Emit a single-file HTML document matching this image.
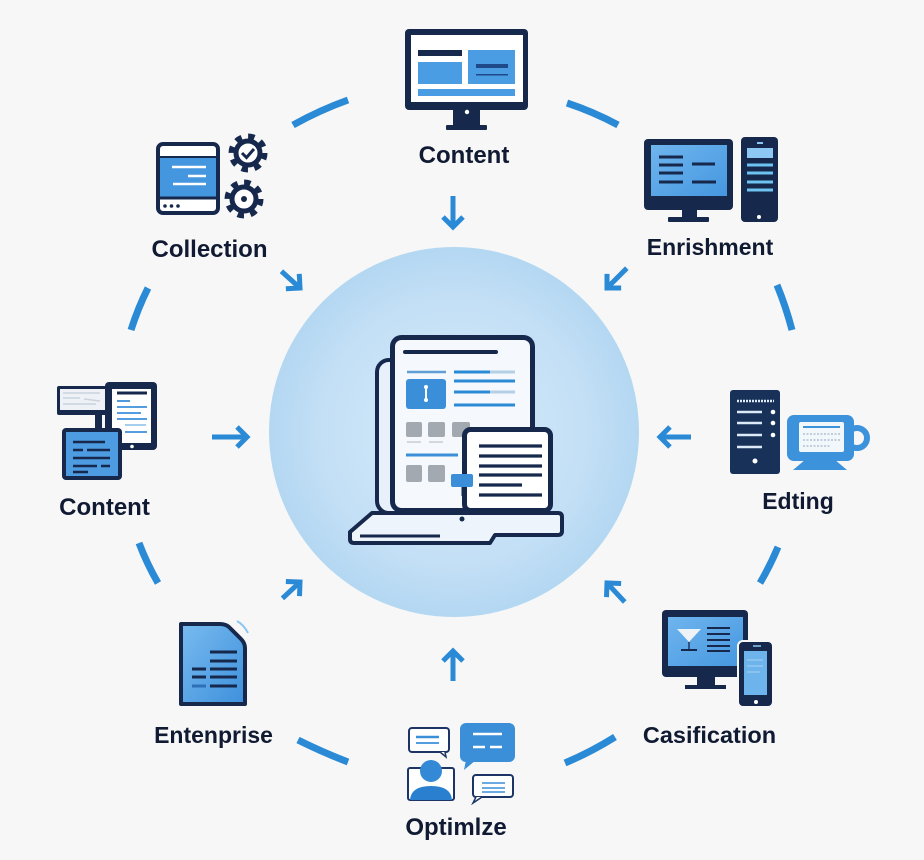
<!DOCTYPE html>
<html><head><meta charset="utf-8"><style>
html,body{margin:0;padding:0;background:#f7f7f7;}
svg{display:block}
text{font-family:"Liberation Sans",Arial,sans-serif;font-weight:bold;fill:#101a32;text-anchor:middle}
</style></head><body>
<svg width="924" height="860" viewBox="0 0 924 860" xmlns="http://www.w3.org/2000/svg">
<defs>
<radialGradient id="cg" cx="50%" cy="50%" r="50%">
<stop offset="0" stop-color="#d4e9f9"/>
<stop offset="0.7" stop-color="#c4e0f6"/>
<stop offset="1" stop-color="#b4d7f2"/>
</radialGradient>
<linearGradient id="docg" x1="0" y1="0" x2="1" y2="1">
<stop offset="0" stop-color="#79bbf0"/>
<stop offset="1" stop-color="#3d90dc"/>
</linearGradient>
<linearGradient id="scr" x1="0" y1="0" x2="1" y2="1">
<stop offset="0" stop-color="#6fb5ee"/>
<stop offset="1" stop-color="#4597e0"/>
</linearGradient>
</defs>
<rect width="924" height="860" fill="#f7f7f7"/>

<!-- central circle -->
<circle cx="454" cy="432" r="185" fill="url(#cg)"/>

<!-- outer dashes -->
<g stroke="#2b8ad6" stroke-width="7" fill="none">
<path d="M293,125 Q320,110 348,100"/>
<path d="M567,103 Q594,112 618,125"/>
<path d="M148,288 Q138,308 131,330"/>
<path d="M139,543 Q147,564 158,583"/>
<path d="M777,285 Q786,307 792,330"/>
<path d="M778,547 Q770,566 760,583"/>
<path d="M298,740 Q322,752 348,762"/>
<path d="M565,763 Q591,752 615,737"/>
</g>

<!-- arrows -->
<g stroke="#2b8ad6" stroke-width="5" fill="none" stroke-linejoin="miter">
<g transform="translate(453,227) rotate(90)"><path d="M-31 0H-3M-10 -10L0 0L-10 10"/></g>
<g transform="translate(300,288) rotate(42)"><path d="M-25 0H-3M-10 -10L0 0L-10 10"/></g>
<g transform="translate(607,288) rotate(135)"><path d="M-28 0H-3M-10 -10L0 0L-10 10"/></g>
<g transform="translate(247,437) rotate(0)"><path d="M-35 0H-3M-10 -10L0 0L-10 10"/></g>
<g transform="translate(660,437) rotate(180)"><path d="M-31 0H-3M-10 -10L0 0L-10 10"/></g>
<g transform="translate(300,582) rotate(-43)"><path d="M-24 0H-3M-10 -10L0 0L-10 10"/></g>
<g transform="translate(607,583) rotate(-133)"><path d="M-26 0H-3M-10 -10L0 0L-10 10"/></g>
<g transform="translate(453,651) rotate(-90)"><path d="M-30 0H-3M-10 -10L0 0L-10 10"/></g>
</g>

<!-- TOP: Content monitor -->
<rect x="405" y="29" width="123" height="81" rx="4" fill="#16294d"/>
<rect x="411" y="35" width="112" height="67" fill="#fff"/>
<rect x="418" y="50" width="44" height="6" fill="#16294d"/>
<rect x="418" y="62" width="44" height="22" fill="#4a9ce3"/>
<rect x="468" y="50" width="47" height="34" fill="#4a9ce3"/>
<rect x="476" y="64" width="32" height="4" fill="#1f4a8a"/>
<rect x="476" y="74" width="32" height="1.5" fill="#1f4a8a"/>
<rect x="418" y="89" width="97" height="7" fill="#4a9ce3"/>
<rect x="453" y="108" width="27" height="19" fill="#16294d"/>
<rect x="446" y="125" width="41" height="5" rx="1" fill="#16294d"/>
<circle cx="467" cy="112" r="2.2" fill="#fff"/>
<text x="464" y="163" font-size="24">Content</text>

<!-- Collection -->
<rect x="158" y="144" width="60" height="69" rx="5" fill="#fff" stroke="#16294d" stroke-width="4"/>
<rect x="160" y="157" width="56" height="40" fill="#4496df"/>
<line x1="160" y1="157" x2="216" y2="157" stroke="#16294d" stroke-width="2"/>
<line x1="160" y1="198" x2="216" y2="198" stroke="#16294d" stroke-width="3"/>
<g stroke="#fff" stroke-width="2.5">
<line x1="172" y1="167" x2="206" y2="167"/>
<line x1="188" y1="176" x2="206" y2="176"/>
<line x1="173" y1="184" x2="206" y2="184"/>
</g>
<g fill="#16294d"><circle cx="165" cy="206" r="1.8"/><circle cx="171.5" cy="206" r="1.8"/><circle cx="178" cy="206" r="1.8"/></g>
<!-- gears -->
<g fill="none" stroke="#16294d">
<circle cx="248" cy="153" r="16.5" stroke-width="6" stroke-dasharray="6.4 6.56"/>
<circle cx="248" cy="153" r="12" stroke-width="5" fill="#fff"/>
<polyline points="242,153 246.5,157.5 254,149" stroke-width="3"/>
<circle cx="244" cy="199" r="16.5" stroke-width="6" stroke-dasharray="6.4 6.56"/>
<circle cx="244" cy="199" r="12" stroke-width="5" fill="#fff"/>
</g>
<circle cx="244" cy="199" r="3" fill="#16294d"/>
<text x="209.5" y="257" font-size="24">Collection</text>

<!-- Enrishment -->
<rect x="644" y="139" width="89" height="71" rx="4" fill="#16294d"/>
<rect x="651" y="145" width="76" height="51" fill="url(#scr)"/>
<rect x="682" y="208" width="15" height="11" fill="#16294d"/>
<rect x="668" y="217" width="41" height="5" rx="1" fill="#16294d"/>
<g stroke="#16294d" stroke-width="3">
<line x1="659" y1="157" x2="683" y2="157"/>
<line x1="659" y1="165" x2="683" y2="165"/>
<line x1="659" y1="173" x2="683" y2="173"/>
<line x1="659" y1="182" x2="683" y2="182"/>
<line x1="692" y1="164" x2="715" y2="164"/>
<line x1="692" y1="182" x2="716" y2="182"/>
</g>
<rect x="741" y="137" width="37" height="85" rx="4" fill="#16294d"/>
<rect x="747" y="148" width="26" height="10" fill="#8cc8f2"/>
<line x1="757" y1="143" x2="763" y2="143" stroke="#8cc8f2" stroke-width="2"/>
<g stroke="#6ec4f0" stroke-width="3">
<line x1="747" y1="165" x2="773" y2="165"/>
<line x1="747" y1="173" x2="773" y2="173"/>
<line x1="747" y1="182" x2="773" y2="182"/>
<line x1="747" y1="190" x2="773" y2="190"/>
</g>
<circle cx="759" cy="217" r="2" fill="#fff"/>
<text x="710" y="255" font-size="23">Enrishment</text>

<!-- Left Content -->
<rect x="57" y="386" width="52" height="29" rx="2" fill="#16294d"/>
<rect x="60" y="389" width="46" height="21" fill="#eef2f6"/>
<g stroke="#c9d3de" stroke-width="1.5">
<line x1="63" y1="393" x2="100" y2="393"/>
<line x1="63" y1="398" x2="80" y2="398"/>
<line x1="84" y1="399" x2="100" y2="401"/>
<line x1="63" y1="404" x2="96" y2="404"/>
</g>
<rect x="95" y="414" width="7" height="14" fill="#16294d"/>
<rect x="105" y="382" width="52" height="68" rx="4" fill="#16294d"/>
<rect x="112" y="389" width="39" height="54" fill="#fff"/>
<circle cx="132" cy="446.5" r="1.8" fill="#fff"/>
<line x1="117" y1="393" x2="147" y2="393" stroke="#16294d" stroke-width="3"/>
<g stroke="#3b8fd9" stroke-width="1.8">
<line x1="117" y1="401" x2="130" y2="401"/>
<line x1="117" y1="407" x2="147" y2="407"/>
<line x1="117" y1="413" x2="141" y2="413"/>
<line x1="117" y1="419" x2="147" y2="419"/>
<line x1="125" y1="425" x2="146" y2="425" stroke="#9cc7ec"/>
<line x1="125" y1="432" x2="147" y2="432"/>
</g>
<rect x="64" y="430" width="56" height="48" rx="2" fill="#4d9be0" stroke="#16294d" stroke-width="4"/>
<g stroke="#16294d" stroke-width="2.5">
<line x1="73" y1="442" x2="105" y2="442"/>
<line x1="73" y1="450" x2="83" y2="450"/>
<line x1="87" y1="450" x2="110" y2="450"/>
<line x1="73" y1="458" x2="110" y2="458"/>
<line x1="73" y1="466" x2="97" y2="466"/>
<line x1="101" y1="466" x2="110" y2="466"/>
<line x1="73" y1="472" x2="88" y2="472"/>
</g>
<text x="104.5" y="515" font-size="24">Content</text>

<!-- Editing -->
<rect x="730" y="390" width="50" height="84" rx="3" fill="#183159"/>
<g stroke="#dce9f7" stroke-width="2.5">
<line x1="737" y1="401" x2="774" y2="401" stroke-dasharray="2 1"/>
<line x1="737" y1="412" x2="762" y2="412"/>
<line x1="737" y1="423" x2="762" y2="423"/>
<line x1="737" y1="435" x2="762" y2="435"/>
<line x1="737" y1="447" x2="762" y2="447"/>
</g>
<g fill="#fff"><circle cx="773" cy="412" r="2.3"/><circle cx="773" cy="423" r="2.3"/><circle cx="773" cy="435" r="2.3"/><circle cx="755" cy="461" r="2.5"/></g>
<circle cx="857" cy="438" r="10" fill="none" stroke="#3d92dc" stroke-width="6"/>
<rect x="787" y="415" width="67" height="46" rx="7" fill="#3d92dc"/>
<path d="M806,459 L793,470 L847,470 L834,459 Z" fill="#3d92dc"/>
<rect x="799" y="422" width="45" height="30" rx="2" fill="#f2f7fc"/>
<line x1="803" y1="427" x2="840" y2="427" stroke="#3d92dc" stroke-width="2"/>
<g stroke="#b3c0cf" stroke-width="1.5" stroke-dasharray="2 1.5">
<line x1="803" y1="434" x2="840" y2="434"/>
<line x1="803" y1="440" x2="840" y2="440"/>
<line x1="803" y1="446" x2="830" y2="446"/>
</g>
<text x="798" y="509" font-size="23">Edting</text>

<!-- Casification -->
<rect x="662" y="610" width="86" height="67" rx="4" fill="#16294d"/>
<rect x="668" y="617" width="75" height="49" fill="url(#scr)"/>
<rect x="697" y="675" width="18" height="11" fill="#16294d"/>
<rect x="685" y="685" width="41" height="4" fill="#16294d"/>
<polygon points="677,629 701,629 689,642" fill="#eef3f8"/>
<line x1="689" y1="642" x2="689" y2="650" stroke="#1d3566" stroke-width="1.5"/>
<line x1="681" y1="650" x2="697" y2="650" stroke="#16294d" stroke-width="2"/>
<g stroke="#16294d" stroke-width="2">
<line x1="707" y1="628" x2="730" y2="628"/>
<line x1="707" y1="634" x2="730" y2="634"/>
<line x1="707" y1="640" x2="730" y2="640"/>
<line x1="707" y1="646" x2="730" y2="646"/>
<line x1="707" y1="651" x2="730" y2="651"/>
</g>
<rect x="738" y="641" width="35" height="66" rx="5" fill="#16294d" stroke="#f7f7f7" stroke-width="2"/>
<rect x="744" y="651" width="23" height="44" fill="#6db3ec"/>
<g stroke="#a8d3f5" stroke-width="1"><line x1="747" y1="660" x2="763" y2="660"/><line x1="747" y1="666" x2="763" y2="666"/><line x1="747" y1="672" x2="760" y2="672"/></g>
<line x1="753" y1="646" x2="761" y2="646" stroke="#8cc8f2" stroke-width="1.5"/>
<circle cx="756" cy="702" r="2" fill="#fff"/>
<text x="709.5" y="743" font-size="23.5">Casification</text>

<!-- Enterprise doc -->
<path d="M181,624 L220,624 Q227,624 231,629 L241,639 Q245,643 245,648 L245,704 L181,704 Z" fill="url(#docg)" stroke="#16294d" stroke-width="4" stroke-linejoin="round"/>
<path d="M237,621 Q244,625 248,633" fill="none" stroke="#8cc6f0" stroke-width="2"/>
<g stroke="#16294d" stroke-width="3">
<line x1="210" y1="652" x2="237" y2="652"/>
<line x1="210" y1="661" x2="237" y2="661"/>
<line x1="210" y1="669" x2="237" y2="669"/>
<line x1="210" y1="677" x2="237" y2="677"/>
<line x1="210" y1="686" x2="237" y2="686"/>
<line x1="192" y1="669" x2="206" y2="669"/>
<line x1="192" y1="677" x2="206" y2="677"/>
<line x1="192" y1="686" x2="206" y2="686" stroke="#2f6fb8"/>
</g>
<text x="213.5" y="743" font-size="23">Entenprise</text>

<!-- Optimize -->
<rect x="409" y="728" width="40" height="24" rx="3" fill="#fff" stroke="#1d3566" stroke-width="2"/>
<path d="M440,752 L446,757 L445,752" fill="#fff" stroke="#1d3566" stroke-width="1.5"/>
<line x1="416" y1="737" x2="439" y2="737" stroke="#3b8fd9" stroke-width="2.5"/>
<line x1="416" y1="743" x2="439" y2="743" stroke="#3b8fd9" stroke-width="1.8"/>
<rect x="460" y="723" width="55" height="39" rx="6" fill="#3a8fd8"/>
<polygon points="466,760 464,770 476,760" fill="#3a8fd8"/>
<g stroke="#fff" stroke-width="2.5">
<line x1="473" y1="734" x2="502" y2="734"/>
<line x1="473" y1="747" x2="485" y2="747"/>
<line x1="490" y1="747" x2="502" y2="747"/>
</g>
<rect x="408" y="768" width="46" height="32" rx="2" fill="#fff" stroke="#1d3566" stroke-width="2"/>
<path d="M410,800 Q411,786 431,786 Q451,786 452,800 Z" fill="#2b7fcf"/>
<circle cx="431" cy="771" r="11" fill="#3389d6"/>
<rect x="473" y="775" width="40" height="22" rx="3" fill="#fff" stroke="#1d3566" stroke-width="2"/>
<path d="M476,797 L473,803 L482,797" fill="#fff" stroke="#1d3566" stroke-width="1.5"/>
<g stroke="#3b8fd9" stroke-width="1.6">
<line x1="482" y1="783" x2="505" y2="783"/>
<line x1="482" y1="788" x2="505" y2="788"/>
<line x1="482" y1="792" x2="505" y2="792"/>
</g>
<text x="456" y="835" font-size="24">Optimlze</text>

<!-- Center laptop/tablet -->
<path d="M372,513 L558,513 Q562,513 562,517 L562,531 Q562,535 558,535 L495,535 L490,543 L354,543 Q350,543 350,539 L350,532 Z" fill="#eef4fb" stroke="#16294d" stroke-width="4" stroke-linejoin="round"/>
<line x1="360" y1="536" x2="440" y2="536" stroke="#16294d" stroke-width="3"/>
<rect x="377" y="360" width="150" height="153" rx="12" fill="#e8f1fb" stroke="#16294d" stroke-width="4"/>
<rect x="392.5" y="337.5" width="140" height="173" rx="9" fill="#f5f8fc" stroke="#16294d" stroke-width="5"/>
<line x1="405" y1="352" x2="496" y2="352" stroke="#16294d" stroke-width="4" stroke-linecap="round"/>
<line x1="407" y1="372" x2="446" y2="372" stroke="#5f9fd6" stroke-width="2.5"/>
<rect x="406" y="379" width="40" height="30" rx="3" fill="#3a8fd8"/>
<line x1="426" y1="387" x2="426" y2="400" stroke="#fff" stroke-width="2"/>
<circle cx="426" cy="387" r="2" fill="#fff"/><circle cx="426" cy="400" r="2" fill="#fff"/>
<g stroke-width="3">
<line x1="454" y1="372" x2="490" y2="372" stroke="#2b8ad6"/>
<line x1="490" y1="372" x2="515" y2="372" stroke="#b5cfe6"/>
<line x1="454" y1="381" x2="515" y2="381" stroke="#2b8ad6"/>
<line x1="454" y1="392" x2="490" y2="392" stroke="#2b8ad6"/>
<line x1="490" y1="392" x2="515" y2="392" stroke="#b5cfe6"/>
<line x1="454" y1="405" x2="515" y2="405" stroke="#2b8ad6"/>
</g>
<g fill="#a3a9b0">
<rect x="406" y="422" width="16" height="15" rx="2"/>
<rect x="428" y="422" width="17" height="15" rx="2"/>
<rect x="452" y="422" width="18" height="15" rx="2"/>
<rect x="406" y="465" width="16" height="17" rx="2"/>
<rect x="428" y="465" width="17" height="17" rx="2"/>
</g>
<g stroke="#c8cdd3" stroke-width="1.5"><line x1="407" y1="442" x2="421" y2="442"/><line x1="429" y1="442" x2="443" y2="442"/></g>
<line x1="406" y1="455" x2="458" y2="455" stroke="#3a8fd8" stroke-width="3"/>
<rect x="464.5" y="429.5" width="86" height="81" rx="6" fill="#fff" stroke="#16294d" stroke-width="5"/>
<g stroke="#16294d" stroke-width="3.2">
<line x1="479" y1="446" x2="542" y2="446"/>
<line x1="479" y1="456" x2="542" y2="456"/>
<line x1="479" y1="466" x2="542" y2="466"/>
<line x1="479" y1="475" x2="542" y2="475"/>
<line x1="479" y1="485" x2="522" y2="485"/>
<line x1="479" y1="495" x2="542" y2="495"/>
</g>
<rect x="451" y="474" width="22" height="13" rx="2" fill="#3a8fd8"/>
<rect x="461.5" y="487" width="3" height="9" fill="#16294d"/>
<circle cx="462" cy="519" r="2.5" fill="#16294d"/>
</svg>
</body></html>
